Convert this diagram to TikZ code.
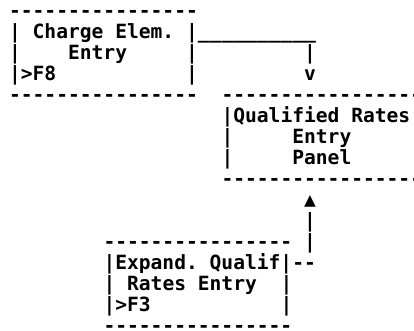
\documentclass[tikz,border=0pt]{standalone}
\usepackage{fontspec}
\setmonofont{DejaVu Sans Mono}
\tikzset{txt/.style={inner sep=0pt, outer sep=0pt, anchor=base west, font=\ttfamily\bfseries\fontsize{19.6pt}{20pt}\selectfont}}
\newcommand\asciiat[4]{\node[txt] (#1) at ({9.1+11.8*#2},{17.2+21.0*#3}) {#4};}
\begin{document}
\begin{tikzpicture}[x=1pt,y=-1pt]
\useasboundingbox (0,0) rectangle (414,330);
% Box 1: Charge Elem. Entry
\asciiat{bAtop}{0}{0}{----------------}
\asciiat{bAl1}{0}{1}{|}
\asciiat{bAt1}{2}{1}{Charge Elem.}
\asciiat{bAr1}{15}{1}{|\_\_\_\_\_\_\_\_\_\_}
\asciiat{bAl2}{0}{2}{|}
\asciiat{bAt2}{5}{2}{Entry}
\asciiat{bAr2}{15}{2}{|}
\asciiat{cA2}{25}{2}{|}
\asciiat{bAl3}{0}{3}{|>F8}
\asciiat{bAr3}{15}{3}{|}
\asciiat{cA3}{25}{3}{v}
\asciiat{bAbot}{0}{4}{----------------}
% Box 2: Qualified Rates Entry Panel
\asciiat{bBtop}{18}{4}{-----------------}
\asciiat{bBt1}{18}{5}{|Qualified Rates}
\asciiat{bBl2}{18}{6}{|}
\asciiat{bBt2}{24}{6}{Entry}
\asciiat{bBl3}{18}{7}{|}
\asciiat{bBt3}{24}{7}{Panel}
\asciiat{bBbot}{18}{8}{-----------------}
% connector from box 3 up to box 2
\asciiat{cB9}{25}{9}{▲}
\asciiat{cB10}{25}{10}{|}
\asciiat{cB11}{25}{11}{|}
% Box 3: Expand. Qualif Rates Entry
\asciiat{bCtop}{8}{11}{----------------}
\asciiat{bCt1}{8}{12}{|Expand. Qualif|--}
\asciiat{bCl2}{8}{13}{|}
\asciiat{bCt2}{10}{13}{Rates Entry}
\asciiat{bCr2}{23}{13}{|}
\asciiat{bCl3}{8}{14}{|>F3}
\asciiat{bCr3}{23}{14}{|}
\asciiat{bCbot}{8}{15}{----------------}
\end{tikzpicture}
\end{document}
